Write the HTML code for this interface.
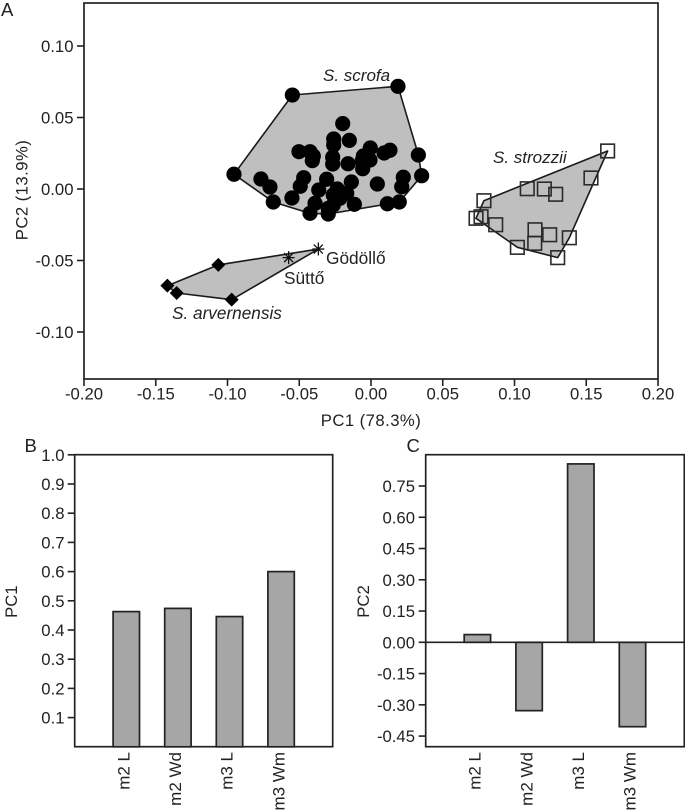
<!DOCTYPE html>
<html lang="en">
<head>
<meta charset="utf-8">
<title>PCA scatter and loadings</title>
<style>
  html, body { margin: 0; padding: 0; background: #fff; }
  svg { display: block; font-family: "Liberation Sans", sans-serif; fill: #222; }
  text { font-size: 16.7px; }
</style>
</head>
<body>
<svg id="fig" xmlns="http://www.w3.org/2000/svg" width="685" height="810" viewBox="0 0 685 810">
  <text x="1" y="16" style="font-size:18.5px">A</text>
  <text x="24.5" y="452" style="font-size:18.5px">B</text>
  <text x="406.5" y="452" style="font-size:18.5px">C</text>
  <text x="371" y="426" text-anchor="middle" style="letter-spacing:.45px">PC1 (78.3%)</text>
  <text transform="translate(27.5,190) rotate(-90)" text-anchor="middle" style="letter-spacing:.45px">PC2 (13.9%)</text>
  <text transform="translate(17,601.7) rotate(-90)" text-anchor="middle">PC1</text>
  <text transform="translate(369,601.5) rotate(-90)" text-anchor="middle">PC2</text>
  <text x="323" y="81" font-style="italic" style="font-size:17px">S. scrofa</text>
  <text x="493" y="163" font-style="italic" style="font-size:17px">S. strozzii</text>
  <text x="172" y="319" font-style="italic" style="font-size:17.2px">S. arvernensis</text>
  <text x="326" y="264" style="font-size:17.3px">Gödöllő</text>
  <text x="284" y="284" style="font-size:17.3px">Süttő</text>
</svg>
<script>
// Panel A data (PC1, PC2)
const scrofaPoints = [[-0.0548,0.0657],[0.0188,0.0718],[-0.0197,0.0457],[-0.026,0.035],[-0.026,0.0308],[-0.0151,0.034],[-0.0502,0.0261],[-0.0425,0.0261],[-0.0402,0.0231],[-0.0409,0.0198],[-0.0267,0.0222],[-0.0267,0.0175],[-0.016,0.0177],[-0.0005,0.0287],[-0.0053,0.0231],[-0.0007,0.0203],[-0.0061,0.0198],[-0.0058,0.0142],[0.0132,0.0271],[0.0091,0.0252],[0.033,0.0238],[0.0353,0.0093],[0.0225,0.0082],[0.0214,0.0016],[0.0044,0.0035],[-0.0955,0.0103],[-0.0767,0.007],[-0.0704,0.0014],[-0.0681,-0.0091],[-0.0551,-0.0063],[-0.0493,0.0019],[-0.0469,0.0079],[-0.0309,0.0068],[-0.0137,0.0049],[-0.0364,-0.0007],[-0.0235,0],[-0.0169,-0.003],[-0.0263,-0.0042],[-0.0216,-0.0065],[-0.039,-0.01],[-0.0425,-0.017],[-0.0116,-0.0107],[0.0114,-0.0103],[0.0197,-0.0091],[-0.0263,-0.0112],[-0.0298,-0.0175],[-0.0298,-0.0135]];
const strozziiPoints = [[0.1649,0.0266],[0.1533,0.0077],[0.1089,0.0002],[0.1208,0],[0.1287,-0.0037],[0.0787,-0.0082],[0.0767,-0.0194],[0.0732,-0.0205],[0.0869,-0.025],[0.1143,-0.0285],[0.1245,-0.032],[0.1382,-0.0341],[0.1141,-0.038],[0.102,-0.0408],[0.1301,-0.048]];
const arvernensisPoints = [[-0.1419,-0.0676],[-0.1354,-0.0727],[-0.1064,-0.0531],[-0.0971,-0.0774]];
const hungarianPoints = [[-0.0574,-0.048],[-0.0367,-0.042]];
const scatterXTicks = ["-0.20","-0.15","-0.10","-0.05","0.00","0.05","0.10","0.15","0.20"];
const scatterYTicks = ["0.10","0.05","0.00","-0.05","-0.10"];
// Panels B and C data
const barCategories = ["m2 L","m2 Wd","m3 L","m3 Wm"];
const pc1Loadings = [0.463,0.474,0.446,0.6];
const pc2Loadings = [0.037,-0.328,0.856,-0.405];
const pc1Ticks = ["0.1","0.2","0.3","0.4","0.5","0.6","0.7","0.8","0.9","1.0"];
const pc2Ticks = ["-0.45","-0.30","-0.15","0.00","0.15","0.30","0.45","0.60","0.75"];

const NS = "http://www.w3.org/2000/svg";
const fig = document.getElementById("fig");
const INK = "#222";

function make(tag, props) {
  const el = document.createElementNS(NS, tag);
  for (const k in props) el.setAttribute(k, props[k]);
  fig.appendChild(el);
  return el;
}

// Axis functions
const ax = v => 371 + v * 1435;
const ay = v => 189 - v * 1430;
const by = v => 746.8 - v * 292;
const cy = v => 642.3 - v * 208.4;

function convexHull(points) {
  const p = points.slice().sort((a, b) => a[0] - b[0] || a[1] - b[1]);
  const cross = (o, a, b) => (a[0]-o[0])*(b[1]-o[1]) - (a[1]-o[1])*(b[0]-o[0]);
  const lower = [], upper = [];
  for (const q of p) {
    while (lower.length > 1 && cross(lower[lower.length-2], lower[lower.length-1], q) <= 0) lower.pop();
    lower.push(q);
  }
  for (const q of p.slice().reverse()) {
    while (upper.length > 1 && cross(upper[upper.length-2], upper[upper.length-1], q) <= 0) upper.pop();
    upper.push(q);
  }
  return lower.slice(0, -1).concat(upper.slice(0, -1));
}

function drawHull(points, name) {
  const pts = convexHull(points).map(q => ax(q[0]).toFixed(1) + "," + ay(q[1]).toFixed(1)).join(" ");
  const hull = make("polygon", {points: pts, fill: "#bfbfbf", stroke: "#1a1a1a", "stroke-width": 1.6, "stroke-linejoin": "round"});
  
  
}

// Panel A
drawHull(scrofaPoints, 'scrofa-hull');
drawHull(strozziiPoints, 'strozzii-hull');
drawHull(arvernensisPoints.concat(hungarianPoints), 'arvernensis-hull');

scrofaPoints.forEach(q => {
  const dot = make("circle", {cx: ax(q[0]), cy: ay(q[1]), r: 7.6, fill: "#000"});
  
  
});
strozziiPoints.forEach(q => {
  const sq = make("rect", {x: ax(q[0]) - 6.8, y: ay(q[1]) - 6.8, width: 13.6, height: 13.6, fill: "none", stroke: "#2a2a2a", "stroke-width": 1.6});
  
  
});
arvernensisPoints.forEach(q => {
  const x = ax(q[0]), y = ay(q[1]);
  const d = make("polygon", {points: [[x,y-7],[x+7,y],[x,y+7],[x-7,y]].map(c => c.join(",")).join(" "), fill: "#000"});
  
  
});
hungarianPoints.forEach(q => {
  const x = ax(q[0]), y = ay(q[1]);
  const path = "M" + (x-6) + " " + y + "H" + (x+6) + "M" + x + " " + (y-6.5) + "V" + (y+6.5) +
    "M" + (x-4.5) + " " + (y-4.5) + "L" + (x+4.5) + " " + (y+4.5) +
    "M" + (x-4.5) + " " + (y+4.5) + "L" + (x+4.5) + " " + (y-4.5);
  const star = make("path", {d: path, fill: "none", stroke: "#111", "stroke-width": 1.3});
  
  
});

function frame(x, y, w, h, name) {
  const r = make("rect", {x: x, y: y, width: w, height: h, fill: "none", stroke: INK, "stroke-width": 1.7});
  
  
}
function yTick(labelText, yPos, axisX, textX, tickName, labelName) {
  const t = make("line", {x1: axisX - 7, x2: axisX, y1: yPos, y2: yPos, stroke: INK, "stroke-width": 1.6});
  
  
  const l = make("text", {x: textX, y: yPos + 6, "text-anchor": "end"});
  l.textContent = labelText;
  
  
}

frame(84, 3, 574, 376, 'scatter-plot-frame');
scatterXTicks.forEach(s => {
  const x = ax(parseFloat(s));
  const t = make("line", {x1: x, x2: x, y1: 379, y2: 386, stroke: INK, "stroke-width": 1.6});
  
  
  const l = make("text", {x: x, y: 399.5, "text-anchor": "middle"});
  l.textContent = s;
  
  
});
scatterYTicks.forEach(s => yTick(s, ay(parseFloat(s)), 84, 73.5, 'scatter-y-tick', 'scatter-y-tick-label'));

// Bar panels
const BAR_WIDTH = 26.4;
function drawBars(values, scale, left, step, baseName) {
  values.forEach((v, i) => {
    const cx = left + step * (i + 1);
    const top = Math.min(scale(v), scale(0));
    const bar = make("rect", {x: cx - BAR_WIDTH / 2, y: top, width: BAR_WIDTH, height: Math.abs(scale(v) - scale(0)), fill: "#a6a6a6", stroke: "#222", "stroke-width": 1.7});
    
    
  });
  barCategories.forEach((c, i) => {
    const cx = left + step * (i + 1);
    const l = make("text", {transform: "translate(" + (cx + 3.2) + ",752) rotate(-90)", "text-anchor": "end", style: "font-size:17px"});
    l.textContent = c;
    
    
  });
}

// Panel B
frame(74.7, 454.7, 258, 292, 'pc1-plot-frame');
drawBars(pc1Loadings, by, 74.7, 51.6, 'pc1');
pc1Ticks.forEach(s => yTick(s, by(parseFloat(s)), 74.7, 64.5, 'pc1-y-tick', 'pc1-y-tick-label'));

// Panel C
frame(425.7, 454.7, 258.6, 292, 'pc2-plot-frame');
drawBars(pc2Loadings, cy, 425.7, 51.7, 'pc2');
const zeroLine = make("line", {x1: 425.7, x2: 684.3, y1: cy(0), y2: cy(0), stroke: INK, "stroke-width": 1.6});


pc2Ticks.forEach(s => yTick(s, cy(parseFloat(s)), 425.7, 415, 'pc2-y-tick', 'pc2-y-tick-label'));
</script>
</body>
</html>
